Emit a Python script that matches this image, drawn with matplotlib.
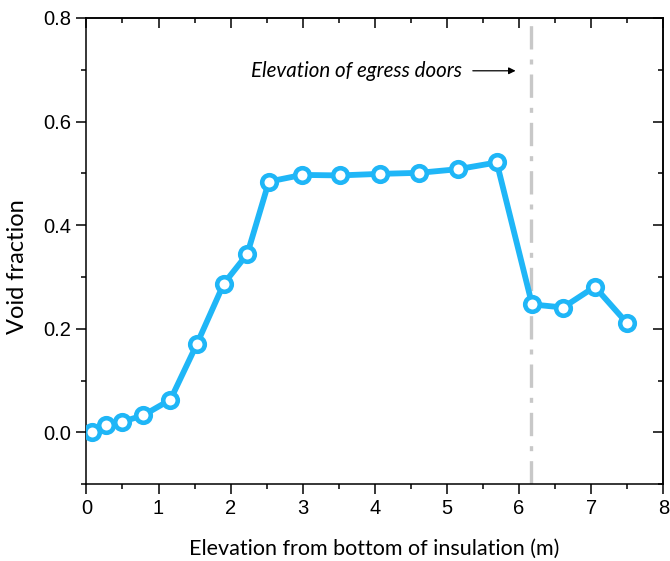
import matplotlib.pyplot as plt
from matplotlib.ticker import MultipleLocator

# Elevation (m) and measured void fraction
elevation = [0.08, 0.27, 0.49, 0.79, 1.165, 1.53, 1.905, 2.23, 2.53, 2.99,
             3.51, 4.07, 4.61, 5.15, 5.69, 6.18, 6.61, 7.05, 7.49]
void_fraction = [0.0, 0.014, 0.02, 0.033, 0.063, 0.17, 0.287, 0.344, 0.484, 0.497,
                 0.496, 0.499, 0.501, 0.508, 0.521, 0.247, 0.241, 0.281, 0.212]

door_elevation = 6.16

blue = '#1fb6f7'
label_font = 'Lato'

fig = plt.figure(figsize=(6.7, 5.61), dpi=100)
ax = fig.add_axes([0.129, 0.137, 0.861, 0.831])

ax.axvline(door_elevation, color='#c8c8c8', lw=2.4, dashes=(7, 3, 1.5, 3), zorder=1)

ax.plot(elevation, void_fraction, color=blue, lw=4.2, marker='o', markersize=10.5,
        markerfacecolor='white', markeredgecolor=blue, markeredgewidth=3.3, zorder=3)

ax.annotate('', xy=(5.99, 0.698), xytext=(5.32, 0.698),
            arrowprops=dict(arrowstyle='-|>', color='black', lw=0.9, mutation_scale=10))
ax.text(5.21, 0.698, 'Elevation of egress doors', ha='right', va='center',
        fontsize=14.8, style='italic', family=label_font)

ax.set_xlim(0, 8)
ax.set_ylim(-0.1, 0.8)
ax.xaxis.set_major_locator(MultipleLocator(1))
ax.xaxis.set_minor_locator(MultipleLocator(0.5))
ax.yaxis.set_major_locator(MultipleLocator(0.2))
ax.yaxis.set_minor_locator(MultipleLocator(0.1))
ax.yaxis.set_major_formatter(plt.FormatStrFormatter('%.1f'))

for side in ax.spines.values():
    side.set_linewidth(1.1)

# Origin style: outward ticks on bottom/left, inward mirrored ticks on top/right
ax.tick_params(which='both', direction='out', width=1.1, labelsize=14.5,
               top=False, right=False)
ax.tick_params(which='major', length=7, pad=4)
ax.tick_params(which='minor', length=3.8)
for lab in ax.get_xticklabels() + ax.get_yticklabels():
    lab.set_family('Liberation Sans')

top = ax.secondary_xaxis('top')
top.set_xticks(range(0, 9))
top.xaxis.set_minor_locator(MultipleLocator(0.5))
top.tick_params(which='both', direction='in', width=1.1, labeltop=False)
top.tick_params(which='major', length=7)
top.tick_params(which='minor', length=3.8)
right = ax.secondary_yaxis('right')
right.yaxis.set_major_locator(MultipleLocator(0.2))
right.yaxis.set_minor_locator(MultipleLocator(0.1))
right.tick_params(which='both', direction='in', width=1.1, labelright=False)
right.tick_params(which='major', length=7)
right.tick_params(which='minor', length=3.8)
top.spines['top'].set_linewidth(1.1)
right.spines['right'].set_linewidth(1.1)

ax.set_xlabel('Elevation from bottom of insulation (m)', fontsize=15.5,
              family=label_font)
ax.set_ylabel('Void fraction', fontsize=17, family=label_font)
ax.xaxis.set_label_coords(0.498, -0.118)
ax.yaxis.set_label_coords(-0.101, 0.466)

fig.savefig('out.png', dpi=100)
